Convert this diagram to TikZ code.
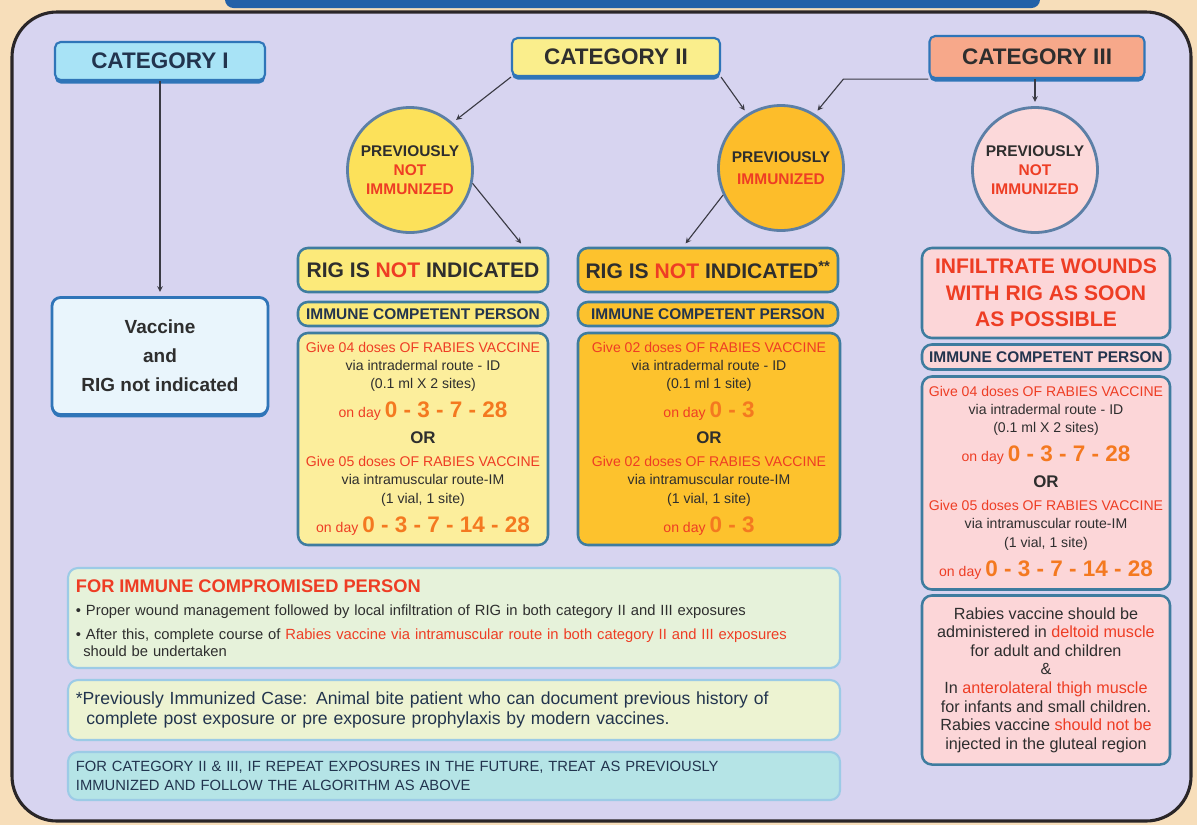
\documentclass[tikz,border=0pt]{standalone}
\usepackage{fontspec}
\setmainfont{Liberation Sans}
\usetikzlibrary{shadows}

\definecolor{bgpeach}{HTML}{F7DEBA}
\definecolor{lavender}{HTML}{D7D4F0}
\definecolor{framedark}{HTML}{2A2628}
\definecolor{titleblue}{HTML}{2461A8}
\definecolor{blueline}{HTML}{2F75B8}
\definecolor{panelline}{HTML}{3E7C9F}
\definecolor{noteline}{HTML}{9CCBE6}
\definecolor{circline}{HTML}{5C7FA6}
\definecolor{catone}{HTML}{A8E3F6}
\definecolor{cattwo}{HTML}{FAEE8C}
\definecolor{catthree}{HTML}{F7A88A}
\definecolor{stageone}{HTML}{FCE15A}
\definecolor{stagetwo}{HTML}{FDBD2A}
\definecolor{stagethree}{HTML}{FCD9DA}
\definecolor{resblue}{HTML}{E9F5FC}
\definecolor{rigyellow}{HTML}{FCEA7A}
\definecolor{doseyellow}{HTML}{FCEE9C}
\definecolor{doseorange}{HTML}{FDC22D}
\definecolor{dosepink}{HTML}{FCD6D8}
\definecolor{compgreen}{HTML}{E6F2DA}
\definecolor{prevgreen}{HTML}{EDF3D2}
\definecolor{repcyan}{HTML}{B5E4E6}
\definecolor{txtred}{HTML}{EE3D24}
\definecolor{numorange}{HTML}{F47920}
\definecolor{navy}{HTML}{22344E}
\definecolor{txtdark}{HTML}{2E2E2E}
\definecolor{linegray}{HTML}{3A3A44}

\newcommand{\rd}[1]{\textcolor{txtred}{#1}}
\newcommand{\bign}[1]{{\fontsize{16}{16}\selectfont\bfseries\textcolor{numorange}{#1}}}
\newcommand{\ondays}[1]{\rd{on day} \bign{#1}}
\newcommand{\dosefont}{\fontsize{10}{12.8}\selectfont\lineskiplimit=-100pt\relax}
\newcommand{\fourfive}{\rd{Give 04 doses OF RABIES VACCINE}\\
  via intradermal route - ID\\
  (0.1 ml X 2 sites)\\[7.5pt]
  \ondays{0 - 3 - 7 - 28}\\[5.7pt]
  {\fontsize{12}{12}\selectfont\bfseries OR}\\[3.9pt]
  \rd{Give 05 doses OF RABIES VACCINE}\\
  via intramuscular route-IM\\[0.7pt]
  (1 vial, 1 site)\\[7.5pt]
  \ondays{0 - 3 - 7 - 14 - 28}}

\tikzset{
  wh/.style 2 args={minimum width=#1*0.025cm, minimum height=#2*0.025cm},
  catbox/.style={draw=blueline, line width=1.5pt, rounded corners=4pt, inner sep=0pt,
    text=txtdark, font=\fontsize{16}{18}\selectfont\bfseries,
    drop shadow={shadow xshift=0pt, shadow yshift=-2.5pt, fill=blueline, opacity=1}},
  stage/.style={circle, draw=circline, line width=2pt, inner sep=0pt, align=center,
    minimum size=125*0.025cm, text=txtdark, font=\fontsize{11}{13.5}\selectfont\bfseries},
  panel/.style={draw=panelline, line width=1.8pt, rounded corners=7pt, inner sep=0pt,
    align=center, text=txtdark},
  rigtext/.style={font=\fontsize{15}{18.9}\selectfont\bfseries},
  immtext/.style={text=navy, font=\fontsize{11}{12}\selectfont\bfseries},
  dosebox/.style={panel, font=\dosefont},
  notebox/.style={draw=noteline, line width=1.5pt, rounded corners=7pt, inner sep=0pt,
    align=left, text width=18.9cm, text=navy},
  link/.style={->, draw=linegray, line width=0.8pt, shorten >=3pt}
}

\begin{document}
\begin{tikzpicture}[x=0.025cm, y=-0.025cm, >=stealth]
  \useasboundingbox (0,0) rectangle (1197,825);
  \fill[bgpeach] (0,0) rectangle (1197,825);
  \fill[titleblue, rounded corners=6pt] (225,-20) rectangle (1040,8);
  \draw[framedark, fill=lavender, line width=2.2pt, rounded corners=32pt] (12,12) rectangle (1191,821);

  % categories of exposure
  \node[catbox, fill=catone, text=navy, wh={210}{38}] (cat1) at (160,61) {CATEGORY I};
  \node[catbox, fill=cattwo, wh={208}{38}] (cat2) at (616,57) {CATEGORY II};
  \node[catbox, fill=catthree, wh={215}{42}] (cat3) at (1037,57) {CATEGORY III};

  % immunization status
  \node[stage, fill=stageone] (pni2) at (410,170) {PREVIOUSLY\\\rd{NOT}\\\rd{IMMUNIZED}};
  \node[stage, fill=stagetwo] (pi2) at (781,168) {PREVIOUSLY\\[2pt]\rd{IMMUNIZED}};
  \node[stage, fill=stagethree] (pni3) at (1035,170) {PREVIOUSLY\\\rd{NOT}\\\rd{IMMUNIZED}};

  % category I
  \node[draw=blueline, line width=2pt, rounded corners=6pt, fill=resblue, align=center,
    text=txtdark, font=\fontsize{13.5}{20.6}\selectfont\bfseries, wh={216}{117},
    drop shadow={shadow xshift=0pt, shadow yshift=-2pt, fill=blueline, opacity=1}]
    (vac1) at (160,356) {Vaccine\\and\\RIG not indicated};

  % category II, previously not immunized
  \node[panel, rigtext, fill=rigyellow, wh={250}{44}] (rig2) at (423,270) {RIG IS \rd{NOT} INDICATED};
  \node[panel, immtext, fill=rigyellow, wh={250}{24}] (imm2) at (423,314) {IMMUNE COMPETENT PERSON};
  \node[dosebox, fill=doseyellow, wh={250}{212}] (dose2) at (423,439) {\fourfive};

  % category II, previously immunized
  \node[panel, rigtext, fill=doseorange, wh={260}{44}] (rig3) at (708,270) {RIG IS \rd{NOT} INDICATED\textsuperscript{**}};
  \node[panel, immtext, fill=doseorange, wh={260}{24}] (imm3) at (708,314) {IMMUNE COMPETENT PERSON};
  \node[dosebox, fill=doseorange, wh={262}{212}] (dose3) at (709,439) {\rd{Give 02 doses OF RABIES VACCINE}\\
    via intradermal route - ID\\
    (0.1 ml 1 site)\\[7.5pt]
    \ondays{0 - 3}\\[5.7pt]
    {\fontsize{12}{12}\selectfont\bfseries OR}\\[3.9pt]
    \rd{Give 02 doses OF RABIES VACCINE}\\
    via intramuscular route-IM\\[0.7pt]
    (1 vial, 1 site)\\[7.5pt]
    \ondays{0 - 3}};

  % category III
  \node[panel, rigtext, text=txtred, fill=dosepink, wh={248}{90}] (rig4) at (1046,293) {INFILTRATE WOUNDS\\WITH RIG AS SOON\\AS POSSIBLE};
  \node[panel, immtext, fill=dosepink, wh={248}{25}] (imm4) at (1046,357) {IMMUNE COMPETENT PERSON};
  \node[dosebox, fill=dosepink, wh={248}{213}] (dose4) at (1046,483) {\fourfive};
  \node[panel, fill=dosepink, font=\fontsize{11.5}{13.2}\selectfont, wh={248}{169}] (site4) at (1046,680) {Rabies vaccine should be\\
    administered in \rd{deltoid muscle}\\
    for adult and children\\
    \&\\
    In \rd{anterolateral thigh muscle}\\
    for infants and small children.\\
    Rabies vaccine \rd{should not be}\\
    injected in the gluteal region};

  % notes
  \node[notebox, fill=compgreen, text=txtdark, font=\fontsize{10.5}{12}\selectfont, wh={772}{100}] (comp) at (454,618)
    {{\fontsize{13}{13}\selectfont\bfseries\rd{FOR IMMUNE COMPROMISED PERSON}}\\[4.4pt]
    \textbullet\ Proper wound management followed by local infiltration of RIG in both category II and III exposures\\[5pt]
    \textbullet\ After this, complete course of \rd{Rabies vaccine via intramuscular route in both category II and III exposures}\\
    \hspace*{0.5em}should be undertaken};
  \node[notebox, fill=prevgreen, font=\fontsize{12.5}{14.2}\selectfont, wh={772}{60}] (prev) at (454,710)
    {*Previously Immunized Case: Animal bite patient who can document previous history of\\
    \hspace*{0.6em}complete post exposure or pre exposure prophylaxis by modern vaccines.};
  \node[notebox, fill=repcyan, font=\fontsize{10.5}{13.5}\selectfont, wh={772}{48}] (rep) at (454,776)
    {FOR CATEGORY II \& III, IF REPEAT EXPOSURES IN THE FUTURE, TREAT AS PREVIOUSLY\\
    IMMUNIZED AND FOLLOW THE ALGORITHM AS ABOVE};

  % connectors
  \draw[link] (cat1.south) -- (vac1.north);
  \draw[link] (cat2.south west) -- (pni2.48);
  \draw[link] (cat2.south east) -- (pi2.122);
  \draw[link] (cat3.south west) -- ++(-85,0) -- (pi2.58);
  \draw[link] (cat3.south -| pni3.north) -- (pni3.north);
  \draw[link] (pni2.-12) -- (rig2.13);
  \draw[link] (pi2.205) -- (rig3.137);
\end{tikzpicture}
\end{document}
